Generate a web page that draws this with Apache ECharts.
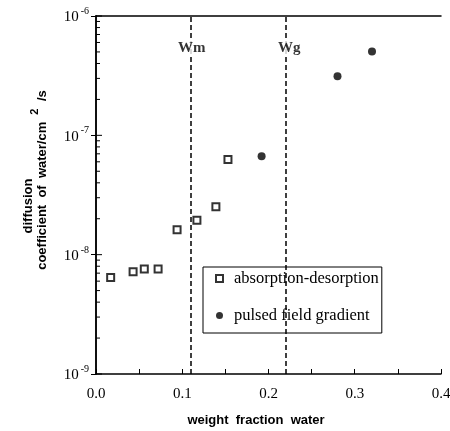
<!DOCTYPE html>
<html>
<head>
<meta charset="utf-8">
<script src="https://cdn.jsdelivr.net/npm/echarts@6/dist/echarts.min.js"></script>
<style>
  html, body { margin: 0; padding: 0; background: #fff; }
  #chart { width: 450px; height: 431px; }
</style>
</head>
<body>
<div id="chart"></div>
<script>
// absorption-desorption (open squares)
var absX = [0.017, 0.043, 0.056, 0.072, 0.094, 0.117, 0.139, 0.153]
var absD = [6.44e-9, 7.19e-9, 7.58e-9, 7.58e-9, 1.62e-8, 1.94e-8, 2.52e-8, 6.28e-8]
// pulsed field gradient (filled circles)
var pfgX = [0.192, 0.280, 0.320]
var pfgD = [6.67e-8, 3.13e-7, 5.05e-7]
// dashed markers Wm / Wg
var markNames = ['Wm', 'Wg']
var markX = [0.111, 0.224]
var markLabelD = [5.4e-7, 5.4e-7]
// axes
var xTicks = [0.0, 0.1, 0.2, 0.3, 0.4]
var yDecades = [1e-9, 1e-8, 1e-7, 1e-6]
var yMinorSteps = [2, 3, 4, 5, 6, 7, 8, 9]

var serif = 'Liberation Serif'
var sans = 'Liberation Sans'

var absData = absX.map(function (x, i) { return [x, absD[i]] })
var pfgData = pfgX.map(function (x, i) { return [x, pfgD[i]] })
var markData = markX.map(function (x, i) { return [x, markLabelD[i], markNames[i]] })

// inner ticks of the log axis: decades (long) and 2..9 (short)
var tickData = yDecades.map(function (d) { return [0, d, 6] })
yDecades.slice(0, -1).forEach(function (d) {
  yMinorSteps.forEach(function (s) { tickData.push([0, d * s, 4]) })
})

var chart = echarts.init(document.getElementById('chart'))
var option = {
  animation: false,
  backgroundColor: '#fff',
  grid: { left: 96, right: 9, top: 16, bottom: 57, outerBoundsMode: 'none' },
  xAxis: [
    {
      type: 'value',
      min: xTicks[0],
      max: xTicks[xTicks.length - 1],
      interval: 0.1,
      name: 'weight  fraction  water',
      nameLocation: 'middle',
      nameGap: 40,
      nameTextStyle: { fontFamily: sans, fontWeight: 'bold', fontSize: 13, color: '#000', padding: [0, 25, 0, 0] },
      axisLine: { show: true, lineStyle: { color: '#000', width: 1.5 } },
      axisTick: { show: true, inside: true, length: 5, lineStyle: { color: '#000' } },
      minorTick: { show: true, splitNumber: 2, length: 5, lineStyle: { color: '#000' } },
      splitLine: { show: false },
      axisLabel: {
        margin: 13,
        fontFamily: serif,
        fontSize: 15,
        color: '#000',
        hideOverlap: false,
        formatter: function (v) { return v.toFixed(1) }
      }
    },
    {
      type: 'value',
      position: 'top',
      min: xTicks[0],
      max: xTicks[xTicks.length - 1],
      interval: 0.1,
      axisLine: { show: true, lineStyle: { color: '#000', width: 1.5 } },
      axisTick: { show: false },
      axisLabel: { show: false },
      splitLine: { show: false }
    }
  ],
  yAxis: [
    {
      type: 'log',
      logBase: 10,
      min: yDecades[0],
      max: yDecades[yDecades.length - 1],
      axisLine: { show: true, lineStyle: { color: '#000', width: 1.5 } },
      axisTick: { show: true, inside: false, length: 5, lineStyle: { color: '#000' } },
      splitLine: { show: false },
      axisLabel: {
        margin: 7,
        color: '#000',
        formatter: function (v) {
          return '{b|10}{s|' + Math.round(Math.log10(v)) + '}'
        },
        rich: {
          b: { fontFamily: serif, fontSize: 15, color: '#000', padding: [3, 0, 0, 0] },
          s: { fontFamily: serif, fontSize: 10, color: '#000', padding: [0, 0, 9, 2] }
        }
      }
    },
    {
      type: 'log',
      logBase: 10,
      position: 'right',
      min: yDecades[0],
      max: yDecades[yDecades.length - 1],
      axisLine: { show: true, lineStyle: { color: '#000', width: 1.5 } },
      axisTick: { show: false },
      axisLabel: { show: false },
      splitLine: { show: false }
    }
  ],
  legend: {
    data: ['absorption-desorption', 'pulsed field gradient'],
    orient: 'vertical',
    left: 203,
    top: 267,
    padding: [3, 3, 9, 12],
    itemWidth: 7,
    itemHeight: 7,
    itemGap: 20,
    borderColor: '#000',
    borderWidth: 1,
    backgroundColor: '#fff',
    textStyle: { fontFamily: serif, fontSize: 16.5, color: '#000', lineHeight: 16, padding: [0, 0, 0, 6] }
  },
  graphic: [
    {
      type: 'text',
      x: 28,
      y: 206,
      rotation: Math.PI / 2,
      style: {
        text: 'diffusion',
        font: 'bold 13px "Liberation Sans"',
        fill: '#000',
        textAlign: 'center',
        textVerticalAlign: 'middle'
      }
    },
    {
      type: 'text',
      x: 42,
      y: 180,
      rotation: Math.PI / 2,
      style: {
        text: '{t|coefficient  of  water/cm}{s|2}{t| /s}',
        fill: '#000',
        textAlign: 'center',
        textVerticalAlign: 'middle',
        rich: {
          t: { fontFamily: sans, fontWeight: 'bold', fontSize: 13, fill: '#000' },
          s: { fontFamily: sans, fontWeight: 'bold', fontSize: 11, fill: '#000', padding: [0, 4, 14, 7] }
        }
      }
    }
  ],
  series: [
    {
      name: 'ticks',
      type: 'custom',
      silent: true,
      clip: false,
      data: tickData,
      renderItem: function (params, api) {
        var p = api.coord([xTicks[0], api.value(1)])
        var len = api.value(2)
        return {
          type: 'line',
          shape: { x1: p[0], y1: p[1], x2: p[0] + len, y2: p[1] },
          style: { stroke: '#000', lineWidth: 1 }
        }
      }
    },
    {
      name: 'marks',
      type: 'scatter',
      data: markData,
      symbolSize: 0,
      z: 5,
      label: {
        show: true,
        position: 'inside',
        formatter: function (p) { return p.value[2] },
        fontFamily: serif,
        fontWeight: 'bold',
        fontSize: 15,
        color: '#000',
        backgroundColor: '#fff',
        padding: [1, 1]
      },
      markLine: {
        silent: true,
        symbol: 'none',
        label: { show: false },
        lineStyle: { color: '#000', width: 1.5, type: [5, 3] },
        data: markX.map(function (x) { return { xAxis: x } })
      }
    },
    {
      name: 'absorption-desorption',
      type: 'scatter',
      symbol: 'rect',
      symbolSize: 7,
      z: 6,
      itemStyle: { color: '#fff', borderColor: '#000', borderWidth: 2 },
      data: absData
    },
    {
      name: 'pulsed field gradient',
      type: 'scatter',
      symbol: 'circle',
      symbolSize: 8,
      z: 6,
      itemStyle: { color: '#000' },
      data: pfgData
    }
  ]
}
chart.setOption(option)
window.addEventListener('resize', function () {
  chart.resize()
})
</script>
</body>
</html>
